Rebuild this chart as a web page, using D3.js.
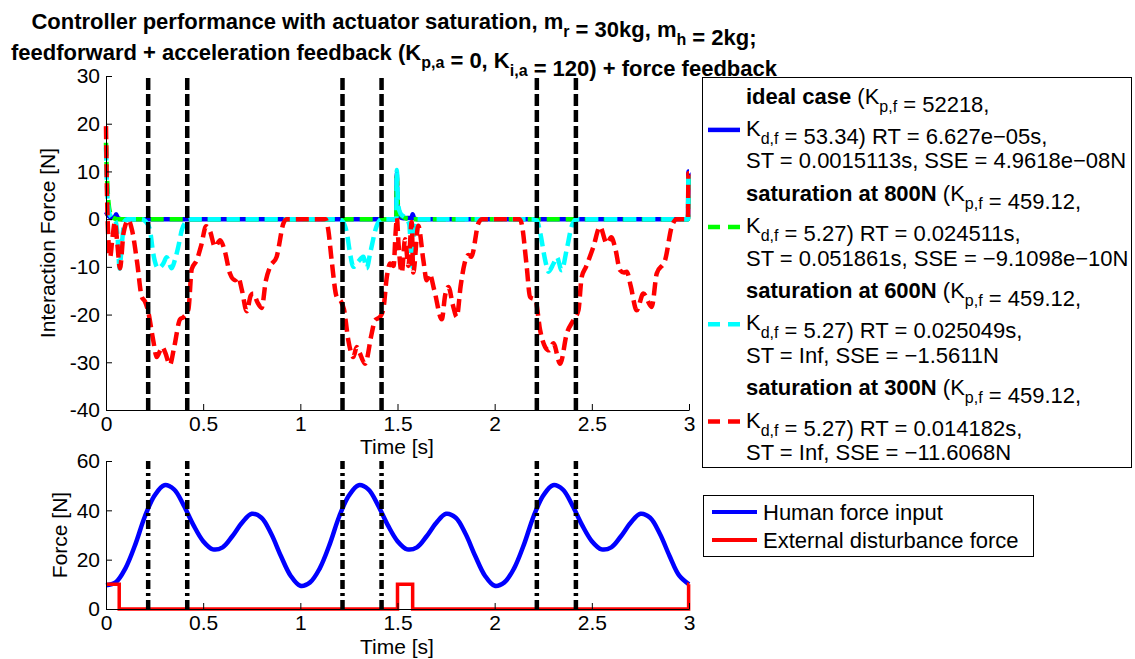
<!DOCTYPE html>
<html><head><meta charset="utf-8">
<script src="https://cdn.jsdelivr.net/npm/d3@7"></script>
<style>
body{margin:0;background:#fff}
svg text{font-family:"Liberation Sans",Arial,Helvetica,sans-serif;fill:#000}
</style>
</head><body>
<svg id="chart" width="1135" height="659"></svg>
<script>
// ---------------- DATA ----------------
const timeTicks = [0, 0.5, 1, 1.5, 2, 2.5, 3];
const interactionTicks = [30, 20, 10, 0, -10, -20, -30, -40];
const forceTicks = [0, 20, 40, 60];
const markerTimes = [0.217, 0.418, 1.217, 1.418, 2.217, 2.418];

// Interaction force [N] — ideal case
const idealCase = [[0,1.5],[0.01,0.8],[0.03,0.3],[0.045,0.4],[0.052,1.0],[0.06,0.3],[0.08,0],[1.494,0],[1.4965,9.5],[1.50,2],[1.51,0.5],[1.53,0.2],[1.572,0.3],[1.578,1.0],[1.585,0.2],[1.60,0],[2.995,0],[2.997,10],[3,10]];
// saturation at 800N
const sat800 = [[0,16],[0.004,10],[0.01,5],[0.02,1.5],[0.035,0.3],[0.06,0],[1.494,0],[1.4965,9],[1.502,3],[1.515,1],[1.54,0.2],[1.57,0],[2.995,0],[2.997,9],[3,9]];
// saturation at 600N
const sat600 = [[0,15],[0.006,6],[0.015,1.5],[0.03,0.3],[0.05,-0.5],[0.06,-4],[0.07,-10.4],[0.08,-6],[0.095,-0.5],[0.11,0],[0.18,0],[0.205,-0.5],[0.226,-2.3],[0.243,-7.2],[0.269,-10.3],[0.295,-9.3],[0.312,-8],[0.338,-10.3],[0.355,-8.5],[0.372,-5.8],[0.39,-2.3],[0.415,-0.4],[0.43,0],[1.19,0],[1.213,-0.3],[1.239,-2.8],[1.256,-7.2],[1.273,-10],[1.30,-8.8],[1.324,-7.9],[1.341,-10.3],[1.36,-7],[1.393,-1.4],[1.42,0],[1.494,0],[1.4965,10.3],[1.502,3.5],[1.515,1.2],[1.54,0.3],[1.56,-1],[1.57,-7],[1.577,-10],[1.585,-2],[1.60,0],[2.19,0],[2.217,-0.3],[2.234,-2.8],[2.26,-8.6],[2.277,-11],[2.303,-9.3],[2.32,-8],[2.345,-10.7],[2.37,-6.5],[2.397,-1.4],[2.42,0],[2.995,0],[2.997,9.5],[3,9.5]];
// saturation at 300N
const sat300 = [[0,19.5],[0.004,8],[0.01,-2],[0.021,-8],[0.033,-4],[0.046,-0.6],[0.058,-5],[0.072,-10.3],[0.09,-3],[0.115,-0.2],[0.135,-2.5],[0.16,-9],[0.184,-16.3],[0.20,-17.2],[0.215,-19],[0.243,-25.4],[0.261,-28.9],[0.278,-27.6],[0.29,-26.8],[0.305,-28],[0.329,-30.5],[0.35,-27],[0.381,-21],[0.40,-20.5],[0.424,-18.9],[0.441,-10.5],[0.467,-8.6],[0.49,-5.5],[0.515,-1.5],[0.535,-2.5],[0.561,-5.8],[0.587,-4.4],[0.61,-6.5],[0.638,-11.4],[0.664,-12.8],[0.68,-12.2],[0.70,-15],[0.724,-19.3],[0.745,-16],[0.758,-15.6],[0.78,-17.5],[0.801,-18.6],[0.822,-13],[0.844,-10],[0.878,-7.9],[0.913,-0.9],[0.93,0],[1.13,0],[1.144,-2.3],[1.161,-8.6],[1.187,-16.3],[1.21,-17.3],[1.225,-19],[1.247,-25.4],[1.273,-28.9],[1.29,-26.8],[1.305,-28],[1.333,-30.3],[1.367,-24],[1.384,-21.2],[1.41,-20.5],[1.427,-18.9],[1.445,-12.1],[1.462,-9.3],[1.48,-9.8],[1.49,-3],[1.497,0.3],[1.505,-5],[1.522,-11.2],[1.539,-4.2],[1.556,-9.8],[1.573,-0.6],[1.581,-11.2],[1.607,-1.4],[1.633,-8.6],[1.65,-12.8],[1.665,-11.5],[1.69,-15],[1.728,-21],[1.745,-16],[1.762,-14.2],[1.785,-18],[1.805,-20.5],[1.825,-14],[1.845,-9.3],[1.865,-7.5],[1.88,-7.9],[1.916,-0.9],[1.935,0],[2.13,0],[2.139,-1],[2.165,-10],[2.182,-16.3],[2.21,-17],[2.234,-23.3],[2.26,-26.8],[2.28,-27.5],[2.302,-26],[2.337,-30.3],[2.371,-24],[2.405,-21.2],[2.431,-19.1],[2.448,-12.1],[2.47,-10],[2.508,-5.8],[2.542,-1.6],[2.577,-5.1],[2.60,-3.8],[2.62,-6],[2.645,-10.7],[2.665,-11.2],[2.68,-11],[2.70,-14],[2.731,-19.1],[2.765,-15.6],[2.808,-18.4],[2.834,-11.4],[2.877,-8.6],[2.911,-1.6],[2.937,0],[2.995,0],[2.997,9.6],[3,9.6]];

// Force [N] — human force input
const humanForce = [[0,9.6],[0.05,10.8],[0.10,16.5],[0.15,26],[0.20,37.5],[0.25,46],[0.30,50.2],[0.35,48.5],[0.40,42],[0.45,34],[0.50,27.5],[0.55,24.2],[0.60,25],[0.65,29.5],[0.70,35],[0.75,38.6],[0.80,37],[0.85,30.5],[0.90,21.5],[0.95,13.5],[1.00,9.4],
 [1.05,10.8],[1.10,16.5],[1.15,26],[1.20,37.5],[1.25,46],[1.30,50.2],[1.35,48.5],[1.40,42],[1.45,34],[1.50,27.5],[1.55,24.2],[1.60,25],[1.65,29.5],[1.70,35],[1.75,38.6],[1.80,37],[1.85,30.5],[1.90,21.5],[1.95,13.5],[2.00,9.4],
 [2.05,10.8],[2.10,16.5],[2.15,26],[2.20,37.5],[2.25,46],[2.30,50.2],[2.35,48.5],[2.40,42],[2.45,34],[2.50,27.5],[2.55,24.2],[2.60,25],[2.65,29.5],[2.70,35],[2.75,38.6],[2.80,37],[2.85,30.5],[2.90,21.5],[2.95,13.5],[3.00,10]];
// external disturbance force (step)
const disturbance = [[0,10],[0.068,0],[1.5,10],[1.578,0],[2.998,10],[3,10]];

const legendTop = [
  [[{t:"ideal case",b:1},{t:" (K"},{t:"p,f",s:1},{t:" = 52218,"}],
   [{t:"K"},{t:"d,f",s:1},{t:" = 53.34) RT = 6.627e\u221205s,"}],
   [{t:"ST = 0.0015113s, SSE = 4.9618e\u221208N"}]],
  [[{t:"saturation at 800N",b:1},{t:" (K"},{t:"p,f",s:1},{t:" = 459.12,"}],
   [{t:"K"},{t:"d,f",s:1},{t:" = 5.27) RT = 0.024511s,"}],
   [{t:"ST = 0.051861s, SSE = \u22129.1098e\u221210N"}]],
  [[{t:"saturation at 600N",b:1},{t:" (K"},{t:"p,f",s:1},{t:" = 459.12,"}],
   [{t:"K"},{t:"d,f",s:1},{t:" = 5.27) RT = 0.025049s,"}],
   [{t:"ST = Inf, SSE = \u22121.5611N"}]],
  [[{t:"saturation at 300N",b:1},{t:" (K"},{t:"p,f",s:1},{t:" = 459.12,"}],
   [{t:"K"},{t:"d,f",s:1},{t:" = 5.27) RT = 0.014182s,"}],
   [{t:"ST = Inf, SSE = \u221211.6068N"}]]
];
const legendBottom = ["Human force input", "External disturbance force"];
const titleLines = [
  [{t:"Controller performance with actuator saturation, m"},{t:"r",s:1},{t:" = 30kg, m"},{t:"h",s:1},{t:" = 2kg;"}],
  [{t:"feedforward + acceleration feedback (K"},{t:"p,a",s:1},{t:" = 0, K"},{t:"i,a",s:1},{t:" = 120) + force feedback"}]
];

// ---------------- STYLES ----------------
const topStyles = [
  {data: idealCase, color: "#0000ff", dash: null, w: 4.5},
  {data: sat800, color: "#00ff00", dash: "13,6", w: 4.5},
  {data: sat600, color: "#00ffff", dash: "13,6", w: 4.5},
  {data: sat300, color: "#ff0000", dash: "13,6", w: 4.5}
];

const svg = d3.select("#chart");
const FS = 21;

const x = d3.scaleLinear().domain([0, 3]).range([106, 689]);
const yTop = d3.scaleLinear().domain([-40, 30]).range([410, 76]);
const yBot = d3.scaleLinear().domain([0, 60]).range([609, 461]);

function richText(sel, parts, fs, subFs, subDy) {
  parts.forEach(p => {
    if (p.s) {
      sel.append("tspan").attr("font-size", subFs).attr("dy", subDy).text(p.t);
      sel.append("tspan").attr("font-size", fs).attr("dy", -subDy).text("");
    } else {
      const ts = sel.append("tspan").attr("font-size", fs).text(p.t);
      if (p.b) ts.attr("font-weight", "bold");
    }
  });
}

// title
titleLines.forEach((ln, i) => {
  const t = svg.append("text").attr("x", 394).attr("y", [28.5, 59.5][i])
    .attr("text-anchor", "middle").attr("font-weight", "bold").attr("font-size", 22);
  richText(t, ln, 22, 16, 8);
});

function styleAxis(g) {
  g.attr("font-family", null).attr("font-size", null);
  g.selectAll("text").attr("font-size", FS);
  g.selectAll("line").attr("stroke", "#000");
  g.select(".domain").attr("stroke", "#000");
}
const fmt = d => String(d);

// top axes
const gTop = svg.append("g");
const lineTop = d3.line().x(d => x(d[0])).y(d => yTop(d[1])).curve(d3.curveMonotoneX);
topStyles.forEach(s => {
  gTop.append("path").attr("d", lineTop(s.data)).attr("fill", "none")
    .attr("stroke", s.color).attr("stroke-width", s.w)
    .attr("stroke-dasharray", s.dash).attr("stroke-linejoin", "round");
});
markerTimes.forEach(t => {
  gTop.append("line").attr("x1", x(t)).attr("x2", x(t))
    .attr("y1", yTop(-40)).attr("y2", yTop(30))
    .attr("stroke", "#000").attr("stroke-width", 4.5).attr("stroke-dasharray", "12,4");
});
svg.append("g").attr("transform", `translate(0,${yTop(-40)})`)
  .call(d3.axisBottom(x).tickValues(timeTicks).tickFormat(fmt).tickSizeInner(-6).tickSizeOuter(0).tickPadding(6))
  .call(styleAxis);
svg.append("g").attr("transform", `translate(${x(0)},0)`)
  .call(d3.axisLeft(yTop).tickValues(interactionTicks).tickFormat(fmt).tickSizeInner(-6).tickSizeOuter(0).tickPadding(6))
  .call(styleAxis);
svg.append("text").attr("x", 397).attr("y", 454).attr("text-anchor", "middle").attr("font-size", FS).text("Time [s]");
svg.append("text").attr("transform", `translate(55,${(yTop(30)+yTop(-40))/2}) rotate(-90)`)
  .attr("text-anchor", "middle").attr("font-size", FS).text("Interaction Force [N]");

// bottom axes
const gBot = svg.append("g");
const lineBot = d3.line().x(d => x(d[0])).y(d => yBot(d[1])).curve(d3.curveCatmullRom);
gBot.append("path").attr("d", lineBot(humanForce)).attr("fill", "none")
  .attr("stroke", "#0000ff").attr("stroke-width", 4.5);
const stepLine = d3.line().x(d => x(d[0])).y(d => yBot(d[1])).curve(d3.curveStepAfter);
gBot.append("path").attr("d", stepLine(disturbance)).attr("fill", "none")
  .attr("stroke", "#ff0000").attr("stroke-width", 3.5);
markerTimes.forEach(t => {
  gBot.append("line").attr("x1", x(t)).attr("x2", x(t))
    .attr("y1", yBot(0)).attr("y2", yBot(60))
    .attr("stroke", "#000").attr("stroke-width", 4.5).attr("stroke-dasharray", "9,4,3,4");
});
svg.append("g").attr("transform", `translate(0,${yBot(0)})`)
  .call(d3.axisBottom(x).tickValues(timeTicks).tickFormat(fmt).tickSizeInner(-6).tickSizeOuter(0).tickPadding(6))
  .call(styleAxis);
svg.append("g").attr("transform", `translate(${x(0)},0)`)
  .call(d3.axisLeft(yBot).tickValues(forceTicks).tickFormat(fmt).tickSizeInner(-6).tickSizeOuter(0).tickPadding(6))
  .call(styleAxis);
svg.append("text").attr("x", 397).attr("y", 654).attr("text-anchor", "middle").attr("font-size", FS).text("Time [s]");
svg.append("text").attr("transform", `translate(67,${(yBot(0)+yBot(60))/2}) rotate(-90)`)
  .attr("text-anchor", "middle").attr("font-size", FS).text("Force [N]");

// legend 1
const L1 = svg.append("g");
L1.append("rect").attr("x", 702.5).attr("y", 77.5).attr("width", 429).attr("height", 390)
  .attr("fill", "#fff").attr("stroke", "#000").attr("stroke-width", 1);
let row = 0;
legendTop.forEach((entry, ei) => {
  entry.forEach((ln, li) => {
    const yb = 103.5 + row * 32.4;
    const t = L1.append("text").attr("x", 746).attr("y", yb).attr("font-size", 22);
    richText(t, ln, 22, 16, 8);
    if (li === 1) {
      const s = topStyles[ei];
      L1.append("line").attr("x1", 708).attr("x2", 740).attr("y1", yb - 6).attr("y2", yb - 6)
        .attr("stroke", s.color).attr("stroke-width", s.w)
        .attr("stroke-dasharray", s.dash ? "12,8" : null);
    }
    row++;
  });
});

// legend 2
const L2 = svg.append("g");
L2.append("rect").attr("x", 703.5).attr("y", 495.5).attr("width", 330).attr("height", 61)
  .attr("fill", "#fff").attr("stroke", "#000").attr("stroke-width", 1);
const botColors = ["#0000ff", "#ff0000"];
legendBottom.forEach((lab, i) => {
  const yc = 512 + i * 28;
  L2.append("line").attr("x1", 712).attr("x2", 757).attr("y1", yc).attr("y2", yc)
    .attr("stroke", botColors[i]).attr("stroke-width", 4);
  L2.append("text").attr("x", 763).attr("y", yc + 8).attr("font-size", 22).text(lab);
});
</script>
</body></html>
